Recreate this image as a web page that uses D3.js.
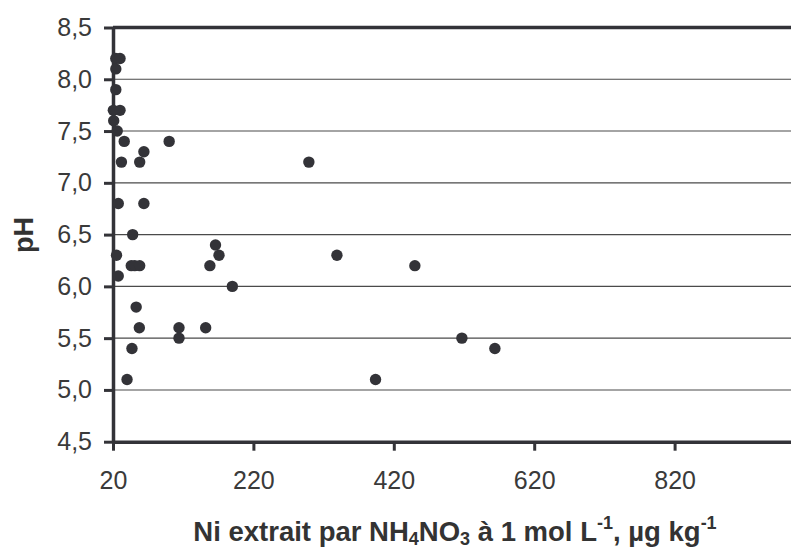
<!DOCTYPE html>
<html>
<head>
<meta charset="utf-8">
<script src="https://cdn.jsdelivr.net/npm/d3@7"></script>
<style>
  html, body { margin: 0; padding: 0; background: #fff; }
  svg { display: block; font-family: "Liberation Sans", Arial, sans-serif; }
</style>
</head>
<body>
<svg id="chart" width="791" height="550"></svg>
<script>
// Ni extracted by NH4NO3 (µg/kg) against soil pH
const niValues = [24, 30, 24, 24, 20.5, 30, 21, 26, 36, 100, 64, 32, 58, 299, 27.5, 64, 48, 166,
                  25, 27.5, 46, 51, 58, 53, 57.5, 47, 40, 114, 114, 152, 158, 171, 190, 339, 394, 450, 517, 564];
const phValues = [8.2, 8.2, 8.1, 7.9, 7.7, 7.7, 7.6, 7.5, 7.4, 7.4, 7.3, 7.2, 7.2, 7.2, 6.8, 6.8, 6.5, 6.4,
                  6.3, 6.1, 6.2, 6.2, 6.2, 5.8, 5.6, 5.4, 5.1, 5.6, 5.5, 5.6, 6.2, 6.3, 6.0, 6.3, 5.1, 6.2, 5.5, 5.4];
const xTicks = [20, 220, 420, 620, 820];
const yTicks = [4.5, 5.0, 5.5, 6.0, 6.5, 7.0, 7.5, 8.0, 8.5];
const gridValues = [5.0, 5.5, 6.0, 6.5, 7.0, 7.5, 8.0];

const points = niValues.map((v, i) => ({ x: v, y: phValues[i] }));

const svg = d3.select("#chart");
const plotLeft = 113, plotTop = 27.5, plotBottom = 441.7, plotRight = 815;

const x = d3.scaleLinear().domain([20, 1020]).range([plotLeft, plotRight]);
const y = d3.scaleLinear().domain([4.5, 8.5]).range([plotBottom, plotTop]);

const ink = "#333338";
const commaFmt = d => d3.format(".1f")(d).replace(".", ",");

// horizontal gridlines
svg.append("g")
  .selectAll("line")
  .data(gridValues)
  .join("line")
  .attr("x1", plotLeft).attr("x2", plotRight)
  .attr("y1", d => y(d)).attr("y2", d => y(d))
  .attr("stroke", "#4a4a4a")
  .attr("stroke-width", 1.1);

// top border of the plot area
svg.append("line")
  .attr("x1", plotLeft).attr("x2", plotRight)
  .attr("y1", y(8.5)).attr("y2", y(8.5))
  .attr("stroke", ink).attr("stroke-width", 3.5);

// y axis
const yAxis = svg.append("g")
  .attr("transform", `translate(${plotLeft},0)`)
  .call(d3.axisLeft(y).tickValues(yTicks).tickFormat(commaFmt).tickSize(9).tickSizeOuter(0).tickPadding(12));

// x axis
const xAxis = svg.append("g")
  .attr("transform", `translate(0,${plotBottom})`)
  .call(d3.axisBottom(x).tickValues(xTicks).tickFormat(d3.format("d")).tickSize(9).tickSizeOuter(0).tickPadding(21));

[yAxis, xAxis].forEach(g => {
  g.select(".domain").attr("stroke", ink).attr("stroke-width", 3.5);
  g.selectAll(".tick line").attr("stroke", ink).attr("stroke-width", 3);
  g.selectAll(".tick text")
    .attr("fill", "#3a3a3a")
    .style("font-size", "25px")
    .style("font-family", "'Liberation Sans', Arial, sans-serif");
});

// data points
svg.append("g")
  .selectAll("circle")
  .data(points)
  .join("circle")
  .attr("cx", d => x(d.x))
  .attr("cy", d => y(d.y))
  .attr("r", 5.7)
  .attr("fill", ink);

// axis titles
const title = svg.append("text")
  .attr("x", 455)
  .attr("y", 541)
  .attr("text-anchor", "middle")
  .attr("fill", "#333")
  .style("font-size", "27.5px")
  .style("font-weight", "bold");
title.append("tspan").text("Ni extrait par NH");
title.append("tspan").attr("font-size", "18px").attr("dy", 4).text("4");
title.append("tspan").attr("dy", -4).text("NO");
title.append("tspan").attr("font-size", "18px").attr("dy", 4).text("3");
title.append("tspan").attr("dy", -4).text(" à 1 mol L");
title.append("tspan").attr("font-size", "18px").attr("dy", -12).text("-1");
title.append("tspan").attr("dy", 12).text(", µg kg");
title.append("tspan").attr("font-size", "18px").attr("dy", -12).text("-1");

svg.append("text")
  .attr("transform", `translate(33,235) rotate(-90)`)
  .attr("text-anchor", "middle")
  .attr("fill", "#333")
  .style("font-size", "27px")
  .style("font-weight", "bold")
  .text("pH");
</script>
</body>
</html>
